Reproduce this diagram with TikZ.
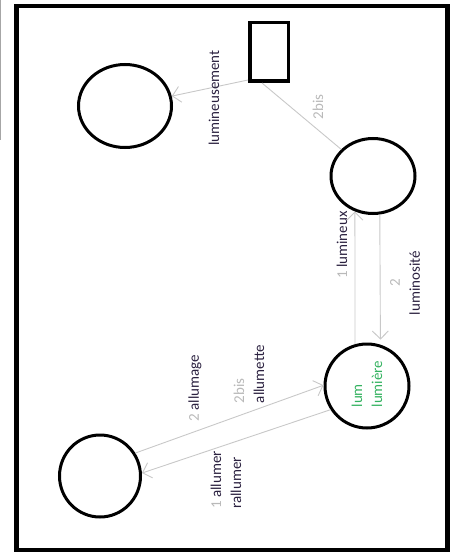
\documentclass[tikz,border=0pt]{standalone}
\usepackage{fontspec}
\setmainfont{Carlito}
\usepackage{xcolor}
\usepackage{tikz}
\usetikzlibrary{shapes.geometric, arrows.meta}
\definecolor{linkgray}{RGB}{200, 200, 200}
\definecolor{numgray}{RGB}{185, 185, 185}
\definecolor{worddark}{RGB}{43, 33, 64}
\definecolor{lumgreen}{RGB}{52, 178, 96}

\tikzset{
    circ/.style={ellipse, draw, line width=3pt, inner sep=0pt},
    link/.style={draw=linkgray, line width=0.9pt},
    tip/.style={-{Straight Barb[length=8pt, width=16pt]}},
    lbl/.style={rotate=90, text=worddark, font=\fontsize{15}{20}\selectfont, inner sep=0pt, align=left}
}

\begin{document}
\begin{tikzpicture}[x=1pt, y=-1pt]
    \useasboundingbox (0,0) rectangle (456,553);

    % Frame
    \draw[line width=4.5pt] (16.5,6) rectangle (447.5,550);
    \draw[gray!70, line width=1pt] (0.5,0) -- (0.5,140);

    % Shapes
    \node[draw, line width=3.5pt, minimum width=38.5pt, minimum height=58.5pt] (box) at (269,52) {};
    \node[circ, minimum width=93pt, minimum height=83pt] (adv) at (125,106) {};
    \node[circ, minimum width=84pt, minimum height=75pt] (lumi) at (373,176) {};
    \node[circ, minimum width=84pt, minimum height=84pt] (lum) at (367,386) {};
    \node[circ, minimum width=81pt, minimum height=82pt] (allum) at (100,476) {};

    % Connectors
    \draw[link, tip] ([yshift=3pt]box.south west) -- (adv);
    \draw[link] ([xshift=14pt]box.south west) -- (lumi);
    \draw[link, tip] (lum.106) -- (lumi.243);
    \draw[link, tip, shorten >=5pt] (lumi.280) -- (lum.72);
    \draw[link, tip] (allum.33) -- (lum.179);
    \draw[link, tip] (lum.213) -- (allum.4);

    % Labels
    \node[lbl] (lblAdv) at (214,98) {lumineusement};
    \node[lbl, text=numgray] (lblBis) at (318,107) {2bis};
    \node[lbl] (lblUp) at (342,245) {\textcolor{numgray}{1} lumineux};
    \node[lbl, align=center] (lblDown) at (405,283) {\textcolor{numgray}{2}\\luminosité};
    \node[lbl, text=lumgreen] (lblLum) at (367,384) {lum\\lumière};
    \node[lbl] (lblAge) at (195,388) {\textcolor{numgray}{2} allumage};
    \node[lbl] (lblEtte) at (249,374) {\textcolor{numgray}{2bis}\\allumette};
    \node[lbl] (lblMer) at (226,480) {\textcolor{numgray}{1} allumer\\rallumer};
\end{tikzpicture}
\end{document}
